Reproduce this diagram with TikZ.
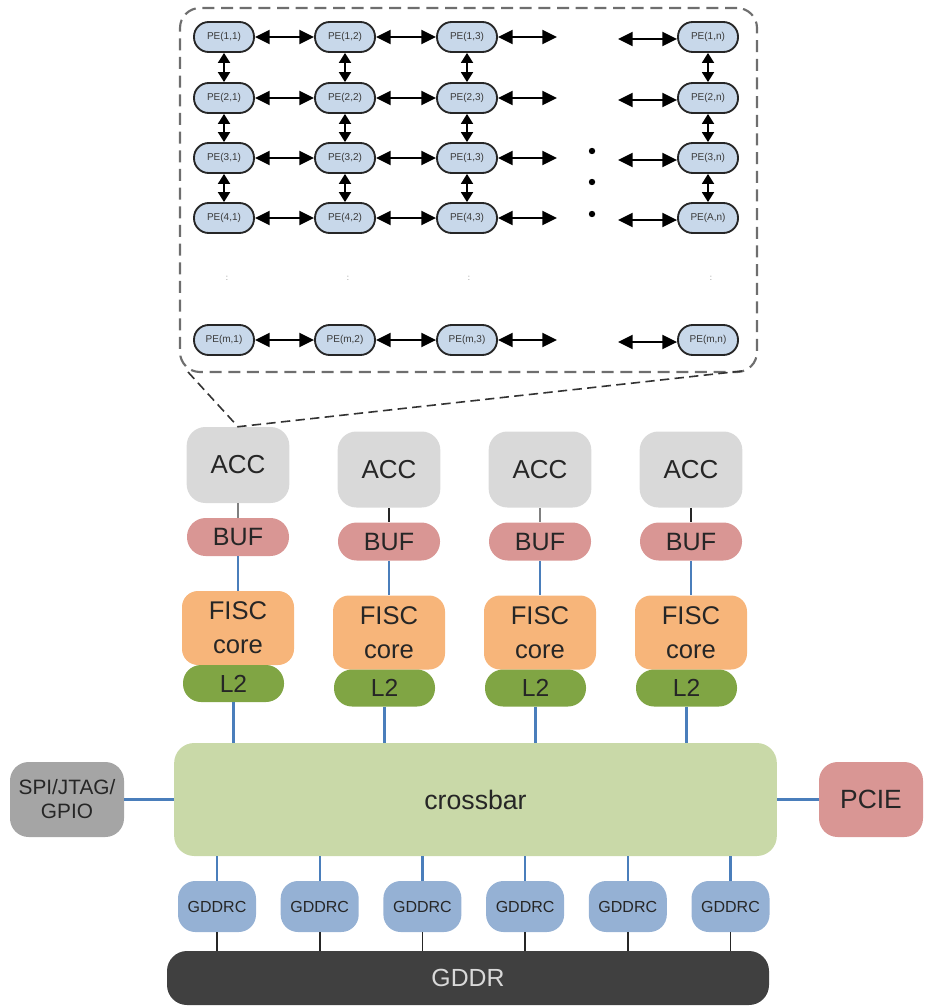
\documentclass[tikz,border=0pt]{standalone}
\usepackage{fontspec}
\setmainfont{Liberation Sans}
\usetikzlibrary{arrows.meta}
\definecolor{peblue}{HTML}{C8D8EA}
\definecolor{petext}{HTML}{3A3A3A}
\definecolor{accgray}{HTML}{D9D9D9}
\definecolor{bufred}{HTML}{D99694}
\definecolor{fiscor}{HTML}{F7B57A}
\definecolor{ltgreen}{HTML}{80A544}
\definecolor{xbargreen}{HTML}{C9D9A8}
\definecolor{spigray}{HTML}{A5A5A5}
\definecolor{gcblue}{HTML}{95B1D4}
\definecolor{gddrdark}{HTML}{404040}
\definecolor{linkblue}{HTML}{4A7EBB}
\definecolor{txt}{HTML}{262626}
\definecolor{dashgray}{HTML}{6E6E6E}
\begin{document}
\begin{tikzpicture}[x=0.75pt,y=-0.75pt,
  pe/.style={draw=black!85, line width=1.4pt, fill=peblue, rounded corners=11pt,
    minimum width=45pt, minimum height=22.5pt, inner sep=0pt,
    font=\fontsize{7.5}{8}\selectfont, text=petext},
  harr/.style={{Triangle[length=11pt,width=10.5pt]}-{Triangle[length=11pt,width=10.5pt]}, line width=1.4pt},
  varr/.style={{Triangle[length=7.5pt,width=9pt]}-{Triangle[length=7.5pt,width=9pt]}, line width=1.4pt},
  colon/.style={font=\fontsize{6}{6}\selectfont, text=gray, inner sep=0pt},
  blk/.style={inner sep=0pt, text=txt, align=center},
  acc/.style={blk, fill=accgray, rounded corners=14pt, minimum width=77pt, minimum height=57pt, font=\fontsize{19.5}{24}\selectfont},
  buf/.style={blk, fill=bufred, rounded corners=14pt, minimum width=76.5pt, minimum height=28.5pt, font=\fontsize{18.8}{22}\selectfont},
  fisc/.style={blk, fill=fiscor, rounded corners=12pt, minimum width=84pt, minimum height=55.5pt, font=\fontsize{19.2}{25.5}\selectfont},
  ltwo/.style={blk, fill=ltgreen, rounded corners=13.5pt, minimum width=75.75pt, minimum height=27.75pt, font=\fontsize{18.5}{22}\selectfont},
  xbar/.style={blk, fill=xbargreen, rounded corners=15pt, minimum width=452pt, minimum height=84.75pt, font=\fontsize{20}{24}\selectfont},
  spi/.style={blk, fill=spigray, rounded corners=14pt, minimum width=85.5pt, minimum height=56.25pt, font=\fontsize{15.6}{18}\selectfont},
  pcie/.style={blk, fill=bufred, rounded corners=14pt, minimum width=78pt, minimum height=56.25pt, font=\fontsize{19.8}{24}\selectfont},
  gddrc/.style={blk, fill=gcblue, rounded corners=13pt, minimum width=58.5pt, minimum height=38.25pt, font=\fontsize{12}{14}\selectfont},
  gddr/.style={blk, fill=gddrdark, rounded corners=15pt, minimum width=451.5pt, minimum height=40.5pt, font=\fontsize{18.6}{22}\selectfont, text=accgray},
  bluelink/.style={draw=linkblue, line width=1.8pt},
  graylink/.style={draw=gray, line width=1.3pt},
  blacklink/.style={draw=black!85, line width=1.3pt},
  zoomline/.style={draw=black!80, line width=1.2pt, dash pattern=on 7pt off 4pt},
  zoomframe/.style={draw=dashgray, line width=1.6pt, dash pattern=on 9pt off 5pt, rounded corners=15pt, minimum width=432.75pt, minimum height=273pt, inner sep=0pt}
]
\useasboundingbox (0,0) rectangle (924,1006);

% ---------- zoom frame ----------
\node[zoomframe] (frame) at (468.5,190) {};

% ---------- PE grid ----------
\node[pe] (p11) at (224,37) {PE(1,1)};
\node[pe] (p12) at (345,37) {PE(1,2)};
\node[pe] (p13) at (467,37) {PE(1,3)};
\node[pe] (p1n) at (708,37) {PE(1,n)};
\node[pe] (p21) at (224,98) {PE(2,1)};
\node[pe] (p22) at (345,98) {PE(2,2)};
\node[pe] (p23) at (467,98) {PE(2,3)};
\node[pe] (p2n) at (708,98) {PE(2,n)};
\node[pe] (p31) at (224,158) {PE(3,1)};
\node[pe] (p32) at (345,158) {PE(3,2)};
\node[pe] (p33) at (467,158) {PE(1,3)};
\node[pe] (p3n) at (708,158) {PE(3,n)};
\node[pe] (p41) at (224,218) {PE(4,1)};
\node[pe] (p42) at (345,218) {PE(4,2)};
\node[pe] (p43) at (467,218) {PE(4,3)};
\node[pe] (p4n) at (708,218) {PE(A,n)};
\node[pe] (pm1) at (224,340) {PE(m,1)};
\node[pe] (pm2) at (345,340) {PE(m,2)};
\node[pe] (pm3) at (467,340) {PE(m,3)};
\node[pe] (pmn) at (708,340) {PE(m,n)};

\foreach \r/\y in {1/37,2/98,3/158,4/218,m/340}{
  \draw[harr] (p\r1.east) -- (p\r2.west);
  \draw[harr] (p\r2.east) -- (p\r3.west);
  \coordinate (ra\r) at (557,\y);
  \coordinate (rb\r) at (618,\y+2);
  \draw[harr] (p\r3.east) -- (ra\r);
  \draw[harr] (rb\r) -- (p\r n.west |- rb\r);
}
\foreach \c in {1,2,3,n}{
  \draw[varr] (p1\c.south) -- (p2\c.north);
  \draw[varr] (p2\c.south) -- (p3\c.north);
  \draw[varr] (p3\c.south) -- (p4\c.north);
}

% dots and colons
\fill (592,151) circle[radius=2.4pt];
\fill (592,182) circle[radius=2.4pt];
\fill (592,214) circle[radius=2.4pt];
\node[colon] (c1) at (227,278) {:};
\node[colon] (c2) at (348,278) {:};
\node[colon] (c3) at (469,278) {:};
\node[colon] (c4) at (711,278) {:};

% ---------- crossbar and peripherals ----------
\node[xbar] (xbar) at (475.5,799.5) {crossbar};
\node[spi] (spi) at (67,799.5) {SPI/JTAG/\\GPIO};
\node[pcie] (pcie) at (871,799.5) {PCIE};
\draw[bluelink] (spi.east) -- (xbar.west);
\draw[bluelink] (xbar.east) -- (pcie.west);

% ---------- columns ----------
\foreach \i/\c/\dy/\lk in {1/238/0/graylink, 2/389/4.5/blacklink, 3/540/4.5/graylink, 4/691/4.5/blacklink}{
  \node[acc] (acc\i) at (\c,465+\dy) {ACC};
  \node[buf] (buf\i) at (\c,537+\dy) {BUF};
  \node[fisc] (fisc\i) at (\c,628+\dy) {FISC\\core};
  \node[ltwo] (ltwo\i) at (\c-4.5,683.5+\dy) {L2};
  \draw[\lk] (acc\i.south) -- (buf\i.north);
  \draw[bluelink] (buf\i.south) -- (fisc\i.north);
  \draw[bluelink] (ltwo\i.south) -- (ltwo\i.south |- xbar.north);
}

% ---------- zoom lines ----------
\coordinate (zl) at (188,372);
\coordinate (zr) at (742,371);
\draw[zoomline] (zl) -- (acc1.north) -- (zr);

% ---------- memory ----------
\node[gddr] (gddr) at (468,978) {GDDR};
\foreach \k/\gx in {1/217,2/319.7,3/422.4,4/525.1,5/627.8,6/730.5}{
  \node[gddrc] (gc\k) at (\gx,906.5) {GDDRC};
  \draw[bluelink] (gc\k.north |- xbar.south) -- (gc\k.north);
  \draw[blacklink] (gc\k.south) -- (gc\k.south |- gddr.north);
}
\end{tikzpicture}
\end{document}
